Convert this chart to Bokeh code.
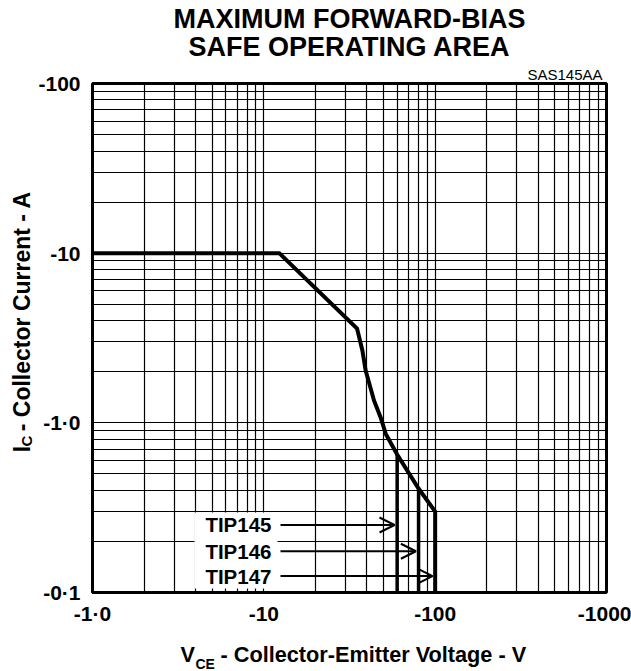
import math
from bokeh.plotting import figure
from bokeh.layouts import column, row
from bokeh.models import FixedTicker, Arrow, OpenHead, ColumnDataSource, Range1d
from bokeh.core.properties import value
from bokeh.embed import file_html
from bokeh.resources import INLINE

# ---------------- data ----------------
vce = [1.0, 12.3, 35.0, 37.6, 39.3, 44.0, 48.0, 51.5, 60.0, 80.0, 100.0, 100.0]
ic = [10.0, 10.0, 3.6, 2.67, 2.03, 1.35, 1.08, 0.86, 0.65, 0.41, 0.30, 0.10]

devices = ["TIP145", "TIP146", "TIP147"]
device_vce = [60.0, 80.0, 100.0]
device_ic_top = [0.65, 0.41, 0.30]
arrow_ic = [0.25, 0.175, 0.125]

x_ticks = [1, 10, 100, 1000]
x_tick_labels = ["-1·0", "-10", "-100", "-1000"]
x_minor = [2, 3, 4, 5, 6, 7, 8, 9, 20, 30, 40, 50, 60, 70, 80, 90,
           200, 300, 400, 500, 600, 700, 800, 900]
y_ticks = [0.1, 1, 10, 100]
y_tick_labels = ["-0·1", "-1·0", "-10", "-100"]
y_minor = [0.2, 0.3, 0.4, 0.5, 0.6, 0.7, 0.8, 0.9, 2, 3, 4, 5, 6, 7, 8, 9,
           20, 30, 40, 50, 60, 70, 80, 90]

title_lines = ["MAXIMUM FORWARD-BIAS", "SAFE OPERATING AREA"]
code_text = "SAS145AA"
x_label_parts = ["V", "CE", "- Collector-Emitter Voltage - V"]
y_label_parts = ["I", "C", "- Collector Current - A"]

FONT = "Liberation Sans"

# ---------------- layout geometry (page pixels) ----------------
PW, PH = 631, 671
TOP_H = 62          # title strip
LEFT_W = 34         # y-label strip
BOT_H = 39          # x-label strip
MAIN_W = PW - LEFT_W
MAIN_H = PH - TOP_H - BOT_H
ML, MR, MT, MB = 58, 25, 21, 40

p = figure(width=MAIN_W, height=MAIN_H, x_axis_type="log", y_axis_type="log",
           x_range=Range1d(1, 1000), y_range=Range1d(0.1, 100),
           output_backend="svg", toolbar_location=None,
           min_border_left=ML, min_border_right=MR,
           min_border_top=MT, min_border_bottom=MB)
p.background_fill_color = "white"
p.border_fill_color = "white"
p.outline_line_color = "black"
p.outline_line_width = 3

p.title.text = code_text
p.title.align = "right"
p.title.offset = 4
p.title.text_font = FONT
p.title.text_font_style = "normal"
p.title.text_font_size = "15px"
p.title.standoff = 2
p.title.text_color = "black"

# frame in page pixels
FL, FR = LEFT_W + ML, LEFT_W + MAIN_W - MR
FT, FB = TOP_H + MT, TOP_H + MAIN_H - MB


def xd(px):
    return 10 ** (3.0 * (px - FL) / (FR - FL))


def yd(py):
    return 10 ** (3.0 * (FB - py) / (FB - FT) - 1.0)


for ax, ticks, labels in ((p.xaxis, x_ticks, x_tick_labels),
                          (p.yaxis, y_ticks, y_tick_labels)):
    ax.ticker = FixedTicker(ticks=ticks, minor_ticks=[])
    ax.major_label_overrides = dict(zip(ticks, labels))
    ax.major_tick_in = 0
    ax.major_tick_out = 0
    ax.minor_tick_in = 0
    ax.minor_tick_out = 0
    ax.axis_line_color = None
    ax.major_label_text_font = FONT
    ax.major_label_text_font_style = "bold"
    ax.major_label_text_font_size = "21px"
    ax.major_label_text_color = "black"
p.xaxis.major_label_standoff = 9
p.yaxis.major_label_standoff = 12

p.xgrid.ticker = FixedTicker(ticks=x_ticks, minor_ticks=x_minor)
p.ygrid.ticker = FixedTicker(ticks=y_ticks, minor_ticks=y_minor)
for g in (p.xgrid, p.ygrid):
    g.grid_line_color = "black"
    g.grid_line_width = 1.2
    g.grid_line_alpha = 1.0
    g.minor_grid_line_color = "black"
    g.minor_grid_line_width = 1.2
    g.minor_grid_line_alpha = 1.0

# white box behind the device labels
p.quad(left=[xd(194)], right=[xd(277)], bottom=[yd(588)], top=[yd(512)],
       fill_color="white", line_color=None)

# SOA boundary
p.line(vce, ic, line_width=4, line_color="black", line_join="miter")
p.segment(x0=device_vce[:2], y0=device_ic_top[:2],
          x1=device_vce[:2], y1=[y_ticks[0]] * 2,
          line_width=3.5, line_color="black")

arrow_src = ColumnDataSource(dict(
    xs=[xd(280)] * 3,
    ys=arrow_ic,
    xe=[v * 0.965 for v in device_vce],
    ye=arrow_ic))
p.add_layout(Arrow(end=OpenHead(size=15, line_width=2, line_color="black"),
                   x_start="xs", y_start="ys", x_end="xe", y_end="ye",
                   source=arrow_src, line_width=2, line_color="black"))

p.text(x=[xd(271)] * 3, y=arrow_ic, text=devices,
       text_font=value(FONT), text_font_style="bold",
       text_font_size="20.5px", text_align="right", text_baseline="middle",
       text_color="black")


# ---------------- text strips ----------------
def strip(w, h):
    f = figure(width=w, height=h, x_range=Range1d(0, w), y_range=Range1d(0, h),
               output_backend="svg", toolbar_location=None, title=None,
               x_axis_location=None, y_axis_location=None,
               min_border=0, outline_line_color=None)
    f.background_fill_color = "white"
    f.border_fill_color = "white"
    f.grid.visible = False
    return f


def put(f, x, y, text, size, style="bold", align="left", angle=0.0):
    f.text(x=[x], y=[y], text=[text], text_font=value(FONT),
           text_font_style=style, text_font_size=size, text_align=align,
           text_baseline="middle", angle=angle, text_color="black")


MID = 0.3465  # box middle above baseline, in em

top = strip(PW, TOP_H)
put(top, 349, TOP_H - (28 - MID * 27), title_lines[0], "27px", align="center")
put(top, 349, TOP_H - (56 - MID * 27), title_lines[1], "27px", align="center")

left = strip(LEFT_W, MAIN_H)
ly = TOP_H + MAIN_H          # page y of left strip bottom
put(left, 21, ly - 475, y_label_parts[0], "23px", angle=math.pi / 2)
put(left, 25.5, ly - 468.6, y_label_parts[1], "15px", angle=math.pi / 2)
put(left, 21, ly - 451.4, y_label_parts[2], "23px", angle=math.pi / 2)

bot = strip(PW, BOT_H)
put(bot, 180, PH - (662 - MID * 21.7), x_label_parts[0], "21.7px")
put(bot, 195, PH - (668 - MID * 14), x_label_parts[1], "14px")
put(bot, 220, PH - (662 - MID * 21.7), x_label_parts[2], "21.7px")

layout = column(top, row(left, p), bot)
open("out.html", "w").write(file_html(layout, INLINE))
